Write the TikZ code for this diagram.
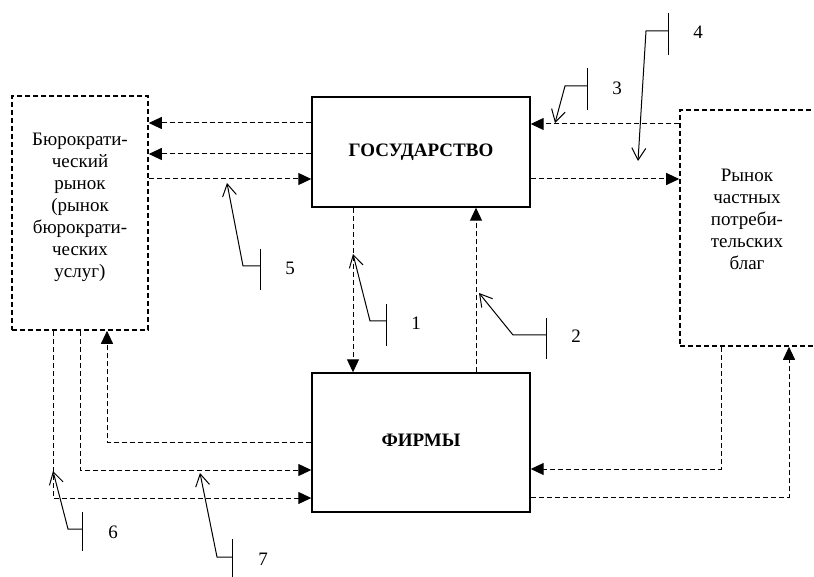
\documentclass[tikz,border=0pt]{standalone}
\usepackage{fontspec}
\setmainfont{LiberationSerif}[Extension=.ttf,UprightFont=*-Regular,BoldFont=*-Bold,ItalicFont=*-Italic,BoldItalicFont=*-BoldItalic]
\usetikzlibrary{arrows.meta}
\begin{document}
\begin{tikzpicture}[x=1pt,y=-1pt,
  box/.style={draw,line width=1.4pt,inner sep=0pt},
  dbox/.style={draw,line width=1.6pt,dash pattern=on 5pt off 3pt,inner sep=0pt},
  conn/.style={line width=1pt,dash pattern=on 5pt off 3pt,-{Triangle[length=13pt,width=12pt]}},
  lead/.style={line width=1pt},
  tipv/.style={-{Straight Barb[length=12pt,width=14pt,line width=1pt]}},
  txt/.style={font=\fontsize{19}{22}\selectfont,align=center,inner sep=0pt},
  lbl/.style={font=\fontsize{19}{22}\selectfont,inner sep=0pt}]
\useasboundingbox (0,0) rectangle (814,577);
% boxes
\node[dbox,minimum width=136pt,minimum height=234pt] (bur) at (80,213) {};
\node[txt] (burt) at (80,207) {Бюрократи-\\ческий\\рынок\\(рынок\\бюрократи-\\ческих\\услуг)};
\node[dbox,minimum width=135.5pt,minimum height=236pt] (priv) at (747.75,228) {};
\node[txt] (privt) at (747,219) {Рынок\\частных\\потреби-\\тельских\\благ};
\node[box,minimum width=218pt,minimum height=110pt,font=\fontsize{19}{22}\selectfont\bfseries] (gov) at (421,152) {\raisebox{-8pt}{ГОСУДАРСТВО}};
\node[box,minimum width=218pt,minimum height=139pt,font=\fontsize{19}{22}\selectfont\bfseries] (firms) at (421,442.5) {\raisebox{5pt}{ФИРМЫ}};
% connectors
\draw[conn] (gov.west |- 0,123) -- (bur.east |- 0,123);
\draw[conn] (gov.west |- 0,154) -- (bur.east |- 0,154);
\draw[conn] (bur.east |- 0,179) -- (gov.west |- 0,179);
\draw[conn] (priv.west |- 0,124) -- (gov.east |- 0,124);
\draw[conn] (gov.east |- 0,179) -- (priv.west |- 0,179);
\draw[conn] (gov.south -| 353,0) -- (firms.north -| 353,0);
\draw[conn] (firms.north -| 476,0) -- (gov.south -| 476,0);
\draw[conn] (firms.west |- 0,442) -| (bur.south -| 107,0);
\draw[conn] (bur.south -| 80,0) |- (firms.west |- 0,470);
\draw[conn] (bur.south -| 53,0) |- (firms.west |- 0,498);
\draw[conn] (priv.south -| 721,0) |- (firms.east |- 0,469);
\draw[conn] (firms.east |- 0,497) -| (priv.south -| 789,0);
% callouts
\coordinate (t1) at (353,254);
\coordinate (t2) at (479,293);
\coordinate (t3) at (555,123);
\coordinate (t4) at (638,161);
\coordinate (t5) at (227,183);
\coordinate (t6) at (53,471);
\coordinate (t7) at (200,473);
\draw[lead,tipv] (386,321) -- (370,321) -- (t1);
\draw[lead] (386,304) -- (386,346);
\node[lbl] (n1) at (416,323) {1};
\draw[lead,tipv] (546,335) -- (513,335) -- (t2);
\draw[lead] (546,318) -- (546,359);
\node[lbl] (n2) at (576,336) {2};
\draw[lead,tipv] (587,86) -- (565,86) -- (t3);
\draw[lead] (587,68) -- (587,110);
\node[lbl] (n3) at (617,88) {3};
\draw[lead,tipv] (668,31) -- (646,31) -- (t4);
\draw[lead] (668,13) -- (668,55);
\node[lbl] (n4) at (698,32) {4};
\draw[lead,tipv] (260,266) -- (243,266) -- (t5);
\draw[lead] (260,249) -- (260,290);
\node[lbl] (n5) at (290,268) {5};
\draw[lead,tipv] (82,529) -- (68,529) -- (t6);
\draw[lead] (82,512) -- (82,551);
\node[lbl] (n6) at (113,532) {6};
\draw[lead,tipv] (232,557) -- (217,557) -- (t7);
\draw[lead] (232,539) -- (232,577);
\node[lbl] (n7) at (263,559) {7};
\end{tikzpicture}
\end{document}
